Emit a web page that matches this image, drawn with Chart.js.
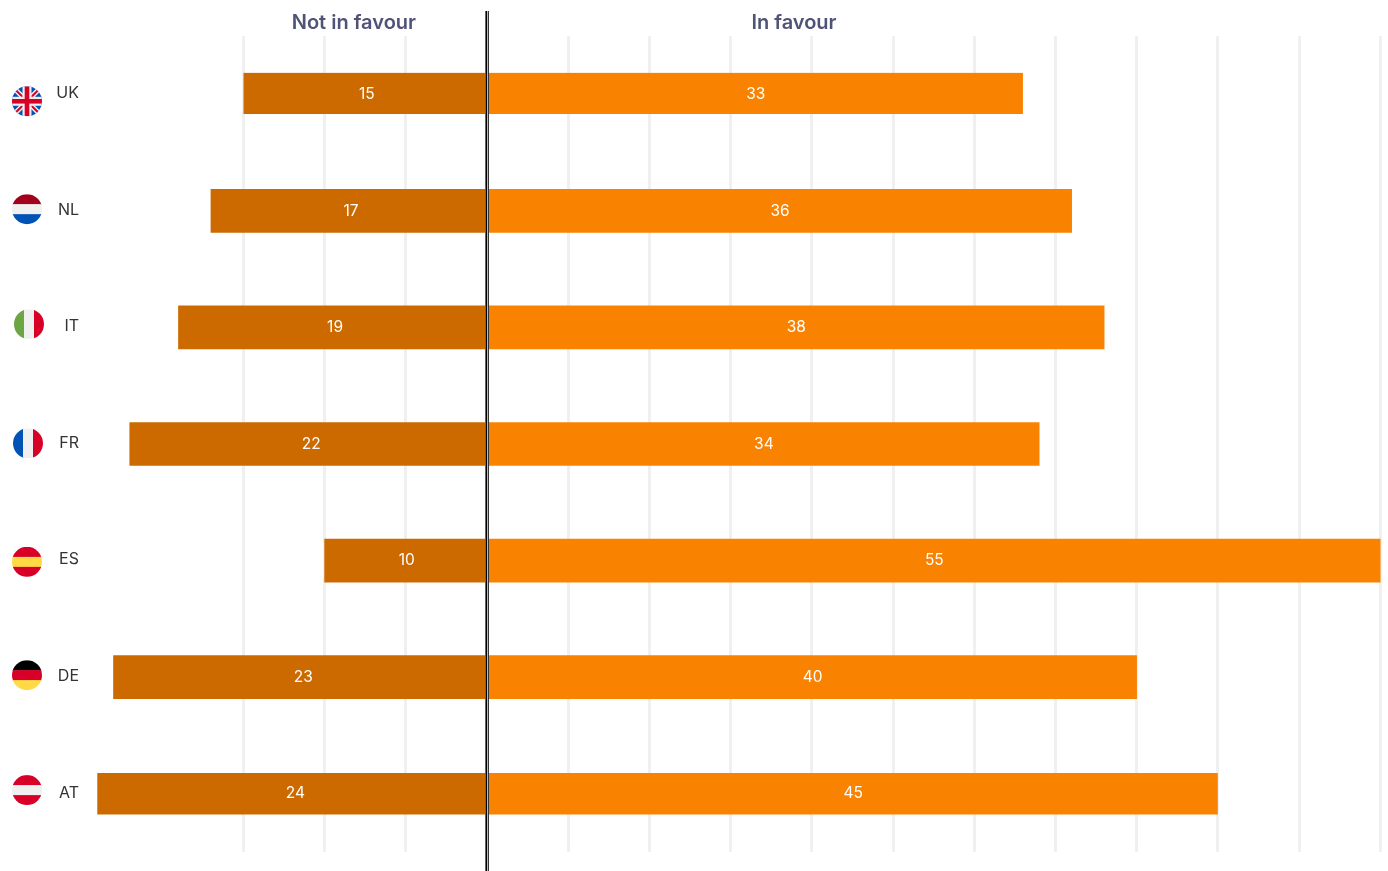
<!DOCTYPE html>
<html>
<head>
<meta charset="utf-8">
<title>In favour / Not in favour</title>
<script src="https://cdn.jsdelivr.net/npm/chart.js@4/dist/chart.umd.min.js"></script>
<style>
  html, body { margin: 0; padding: 0; background: #fff; }
  canvas { display: block; }
</style>
</head>
<body>
<canvas id="favourChart" width="1388" height="871"></canvas>
<script>
const categories = ['UK', 'NL', 'IT', 'FR', 'ES', 'DE', 'AT'];
const notInFavour = [15, 17, 19, 22, 10, 23, 24];
const inFavour = [33, 36, 38, 34, 55, 40, 45];

// Flag drawing, per country: stripes run top to bottom unless vertical is set
const flags = {
  UK: { dx: 27, dy: 7, union: true },
  NL: { dx: 27, dy: -1.7, stripes: ['#a2001d', '#f0f0f0', '#0052b4'] },
  IT: { dx: 29, dy: -3.2, vertical: true, stripes: ['#6da544', '#f0f0f0', '#d80027'] },
  FR: { dx: 28, dy: -0.7, vertical: true, stripes: ['#0052b4', '#f0f0f0', '#d80027'] },
  ES: { dx: 27, dy: 1.3, stripes: ['#d80027', '#ffda44', '#d80027'] },
  DE: { dx: 27, dy: -2, stripes: ['#000000', '#d80027', '#ffda44'] },
  AT: { dx: 27, dy: -3.6, stripes: ['#d80027', '#f0f0f0', '#d80027'] }
};

const fontFamily = 'Inter, "Open Sans", sans-serif';
const flagRadius = 15;
// where the value sits along each bar, measured from the centre line
const labelAlong = [0.49, 0.5];

function drawUnion(ctx, x, y, r) {
  ctx.fillStyle = '#0052b4';
  ctx.fillRect(x - r, y - r, r * 2, r * 2);
  ctx.lineCap = 'butt';
  [[1, 1], [1, -1]].forEach(([a, b]) => {
    ctx.beginPath();
    ctx.moveTo(x - r * a, y - r * b);
    ctx.lineTo(x + r * a, y + r * b);
    ctx.strokeStyle = '#f0f0f0';
    ctx.lineWidth = 5;
    ctx.stroke();
    ctx.strokeStyle = '#d80027';
    ctx.lineWidth = 2;
    ctx.stroke();
  });
  ctx.fillStyle = '#f0f0f0';
  ctx.fillRect(x - 4.5, y - r, 9, r * 2);
  ctx.fillRect(x - r, y - 4.5, r * 2, 9);
  ctx.fillStyle = '#d80027';
  ctx.fillRect(x - 2.3, y - r, 4.6, r * 2);
  ctx.fillRect(x - r, y - 2.3, r * 2, 4.6);
}

function drawFlag(ctx, flag, x, y, r) {
  ctx.save();
  ctx.beginPath();
  ctx.arc(x, y, r, 0, Math.PI * 2);
  ctx.clip();
  if (flag.union) {
    drawUnion(ctx, x, y, r);
  } else {
    const w = (r * 2) / 3;
    flag.stripes.forEach((color, i) => {
      ctx.fillStyle = color;
      if (flag.vertical) {
        ctx.fillRect(x - r + i * w, y - r, w + 0.5, r * 2);
      } else {
        ctx.fillRect(x - r, y - r + i * w, r * 2, w + 0.5);
      }
    });
  }
  ctx.restore();
}

// Country code and flag on the left of each row
const rowLabels = {
  id: 'rowLabels',
  afterDraw(chart) {
    const ctx = chart.ctx;
    const yScale = chart.scales.y;
    ctx.save();
    categories.forEach((name, i) => {
      const y = yScale.getPixelForValue(i);
      const flag = flags[name];
      drawFlag(ctx, flag, flag.dx, y + flag.dy, flagRadius);
      ctx.fillStyle = '#333333';
      ctx.font = '16px ' + fontFamily;
      ctx.textAlign = 'right';
      ctx.textBaseline = 'middle';
      ctx.fillText(name, 79, y - 1);
    });
    ctx.restore();
  }
};

// White value in the middle of each bar
const barValues = {
  id: 'barValues',
  afterDatasetsDraw(chart) {
    const ctx = chart.ctx;
    ctx.save();
    ctx.fillStyle = '#ffffff';
    ctx.font = '15.5px ' + fontFamily;
    ctx.textAlign = 'center';
    ctx.textBaseline = 'middle';
    chart.data.datasets.forEach((dataset, d) => {
      chart.getDatasetMeta(d).data.forEach((bar, i) => {
        const x = bar.base + (bar.x - bar.base) * labelAlong[d];
        ctx.fillText(Math.abs(dataset.data[i]), x, bar.y);
      });
    });
    ctx.restore();
  }
};

// Centre line and the two column headings
const centreLine = {
  id: 'centreLine',
  afterDatasetsDraw(chart) {
    const ctx = chart.ctx;
    const x = Math.round(chart.scales.x.getPixelForValue(0));
    ctx.save();
    ctx.fillStyle = '#666666';
    ctx.fillRect(x - 2, 11, 1, 860);
    ctx.fillStyle = '#000000';
    ctx.fillRect(x - 1, 11, 1, 860);
    ctx.fillStyle = '#bbbbbb';
    ctx.fillRect(x, 11, 1, 860);
    ctx.fillStyle = '#333333';
    ctx.fillRect(x + 1, 11, 1, 860);
    ctx.fillStyle = '#4f5476';
    ctx.font = '600 20px ' + fontFamily;
    ctx.textAlign = 'center';
    ctx.textBaseline = 'middle';
    ctx.fillText('Not in favour', chart.scales.x.getPixelForValue(-8.2), 23);
    ctx.fillText('In favour', chart.scales.x.getPixelForValue(18.9), 23);
    ctx.restore();
  }
};

// first and last row are a little thinner than the rest
const rowBorder = ctx => {
  if (ctx.dataIndex === 0) return { top: 0, bottom: 2, left: 0, right: 0 };
  if (ctx.dataIndex === categories.length - 1) return { top: 1, bottom: 1, left: 0, right: 0 };
  return 0;
};

new Chart(document.getElementById('favourChart'), {
  type: 'bar',
  data: {
    labels: categories,
    datasets: [{
      label: 'Not in favour',
      data: notInFavour.map(v => -v),
      backgroundColor: '#cc6a00',
      borderColor: 'rgba(0,0,0,0)',
      borderWidth: rowBorder,
      borderSkipped: false,
      barThickness: 43
    }, {
      label: 'In favour',
      data: inFavour,
      backgroundColor: '#f98200',
      borderColor: 'rgba(0,0,0,0)',
      borderWidth: rowBorder,
      borderSkipped: false,
      barThickness: 43
    }]
  },
  options: {
    indexAxis: 'y',
    responsive: false,
    animation: false,
    layout: { padding: { top: 36, bottom: 19 } },
    plugins: {
      legend: { display: false },
      tooltip: { enabled: false }
    },
    scales: {
      x: {
        stacked: true,
        min: -29.99,
        max: 55.48,
        border: { display: false },
        ticks: { display: false, stepSize: 5, includeBounds: false },
        grid: {
          drawTicks: false,
          lineWidth: 3,
          color: ctx => (ctx.tick.value === 0 || ctx.tick.value < -15) ? 'rgba(0,0,0,0)' : '#f0f0f0'
        }
      },
      y: {
        stacked: true,
        display: false,
        grid: { display: false }
      }
    }
  },
  plugins: [rowLabels, barValues, centreLine]
});
</script>
</body>
</html>
